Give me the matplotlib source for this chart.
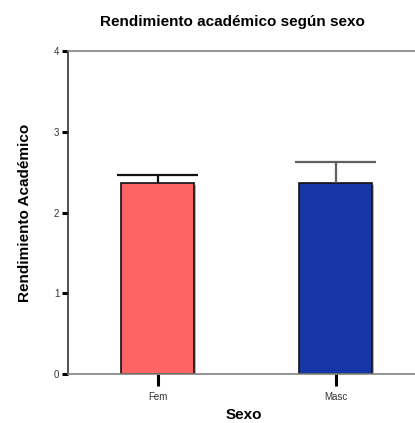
import numpy as np
import matplotlib
matplotlib.use("Agg")
import matplotlib.pyplot as plt
from matplotlib.patches import Rectangle

categories = ["Fem", "Masc"]
means = [2.36, 2.36]
errors = [0.11, 0.26]
colors = ["#FF6464", "#1736A6"]
err_colors = ["#111111", "#606060"]
yticks = [0, 1, 2, 3, 4]

plt.rcParams['font.family'] = ['Liberation Sans', 'DejaVu Sans']

fig = plt.figure(figsize=(4.15, 4.23), dpi=100)
W, H = 415, 423
ax = fig.add_axes([68 / W, 1 - 374 / H, 1 - 68 / W + 0.01, (374 - 51) / H])

x = np.arange(len(categories))
width = 0.41
cap = 0.225

# shadow behind bars
for xi, m in zip(x, means):
    ax.add_patch(Rectangle((xi - width / 2 + 0.012, 0), width, m - 0.02,
                           facecolor="#b0b0b0", edgecolor="none", zorder=1))
ax.bar(x, means, width=width, color=colors, edgecolor="#111111", linewidth=1.2, zorder=2)
# upper error bars only (stem + top cap)
for xi, m, e, c in zip(x, means, errors, err_colors):
    ax.vlines(xi, m, m + e, color=c, linewidth=1.6, zorder=3)
    ax.hlines(m + e, xi - cap, xi + cap, color=c, linewidth=1.6, zorder=3)

ax.set_xlim(-0.503, 1.47)
ax.set_ylim(0, 4)
ax.set_yticks(yticks)
ax.set_yticklabels([str(v) for v in yticks], fontsize=7, color="#333333")
ax.set_xticks(x)
ax.set_xticklabels(categories, fontsize=7, color="#333333")
ax.tick_params(axis="y", direction="out", length=4.3, width=2.2, color="black", pad=2)
ax.tick_params(axis="x", direction="out", length=8.6, width=2.2, color="black", pad=4)

for s in ["top", "bottom"]:
    ax.spines[s].set_color("#808080")
    ax.spines[s].set_linewidth(1.2)
ax.spines["left"].set_color("#333333")
ax.spines["left"].set_linewidth(1.2)
ax.spines["right"].set_visible(False)

ax.set_xlabel("Sexo", fontsize=11, fontweight="bold", labelpad=5)
ax.set_ylabel("Rendimiento Académico", fontsize=11, fontweight="bold", labelpad=16)
fig.text(232 / W, 1 - 22 / H, "Rendimiento académico según sexo", ha="center", va="center",
         fontsize=11, fontweight="bold")

fig.savefig("out.png", dpi=100)
